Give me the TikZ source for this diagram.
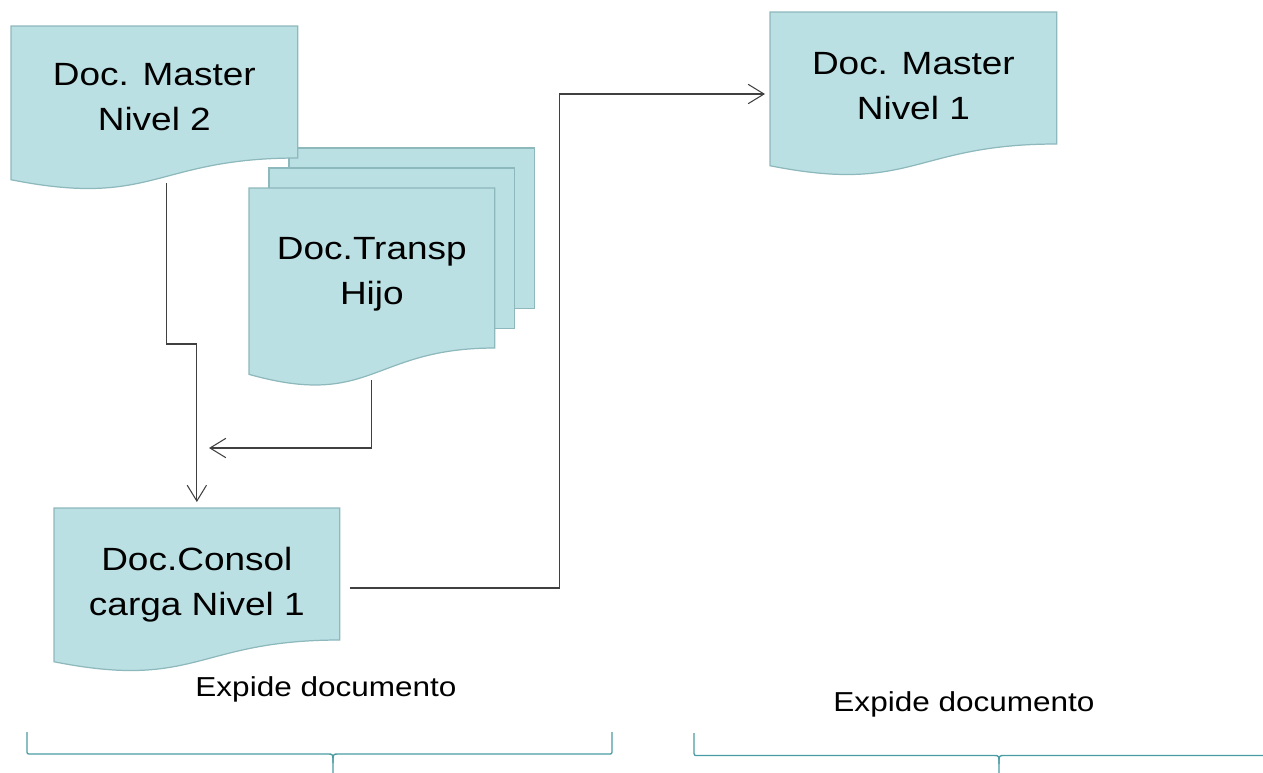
\documentclass[tikz,border=0pt]{standalone}
\usepackage{fontspec}
\setmainfont{Liberation Sans}[FakeStretch=1.15]
\usetikzlibrary{calc,arrows.meta,backgrounds}
\definecolor{hojafill}{RGB}{187,224,227}
\definecolor{borde}{RGB}{141,184,188}
\definecolor{llavecol}{RGB}{74,156,162}
\newcommand\unitpx{0.02cm}
% document sheet under node #1, straight side #2 long
\newcommand\hoja[2]{\path[sheet] (#1.north west) -- (#1.north east) -- ($(#1.north east)+(0,#2)$)
    .. controls ($(#1.north)+(0,#2)$) and ($(#1.north)+(0,1.381*#2)$) .. ($(#1.north west)+(0,1.1646*#2)$) -- cycle;}
\begin{document}
\begin{tikzpicture}[x=0.02cm, y=-0.02cm, >={Straight Barb[length=9pt,width=11pt]},
    doc/.style={anchor=north west, align=center, inner sep=0pt, font=\fontsize{18.3}{25.6}\selectfont},
    sheet/.style={fill=hojafill, draw=borde, line width=0.7pt},
    link/.style={draw=black!75, line width=0.6pt},
    expide/.style={inner sep=0pt, font=\fontsize{15.6}{18}\selectfont},
    llave/.style={draw=llavecol, line width=0.75pt}]
\useasboundingbox (0,0) rectangle (1263,772);

\node[doc, minimum width=286*\unitpx, minimum height=142*\unitpx] (m2) at (11,26) {Doc. Master\\Nivel 2};
\node[doc, minimum width=245*\unitpx, minimum height=160*\unitpx] (tb) at (289,148) {};
\node[doc, minimum width=245*\unitpx, minimum height=160*\unitpx] (tm) at (269,168) {};
\node[doc, minimum width=245*\unitpx, minimum height=172*\unitpx] (tf) at (249,188) {Doc.Transp\\Hijo};
\node[doc, minimum width=285*\unitpx, minimum height=153*\unitpx] (cons) at (54,508) {Doc.Consol\\carga Nivel 1};
\node[doc, minimum width=286*\unitpx, minimum height=147*\unitpx] (m1) at (770,12) {Doc. Master\\Nivel 1};

\begin{scope}[on background layer]
\foreach \n in {tb,tm}
{
    \path[sheet] (\n.north west) rectangle (\n.south east);
}
\hoja{tf}{160}
\foreach \n/\h in {m2/132,cons/132,m1/132}
{
    \hoja{\n}{\h}
}
\end{scope}

\draw[link,->] ($(m2.north)+(12,157)$) -- ++(0,161) -| ($(cons.north)+(0,-6)$);
\coordinate (hijoin) at (209,448);
\draw[link,->] ($(tf.north)+(0,192)$) |- (hijoin);
\draw[link,->] ($(cons.north east)+(10,80)$) -- ++(210,0) |- ($(m1.north west)+(-5,82)$);

\node[expide] (exp2) at (326,689) {Expide documento};
\node[expide] (exp1) at (964,704) {Expide documento};

\draw[llave] (27,732) -- (27,750) .. controls (27,754) .. (31,754) -- (328,754) .. controls (333,754) .. (333,763) -- (333,775);
\draw[llave] (612,732) -- (612,750) .. controls (612,754) .. (608,754) -- (338,754) .. controls (333,754) .. (333,763);
\draw[llave] (694,733) -- (694,751) .. controls (694,755.5) .. (698,755.5) -- (994,755.5) .. controls (999,755.5) .. (999,764) -- (999,775);
\draw[llave] (1270,755.5) -- (1004,755.5) .. controls (999,755.5) .. (999,764);
\end{tikzpicture}
\end{document}
